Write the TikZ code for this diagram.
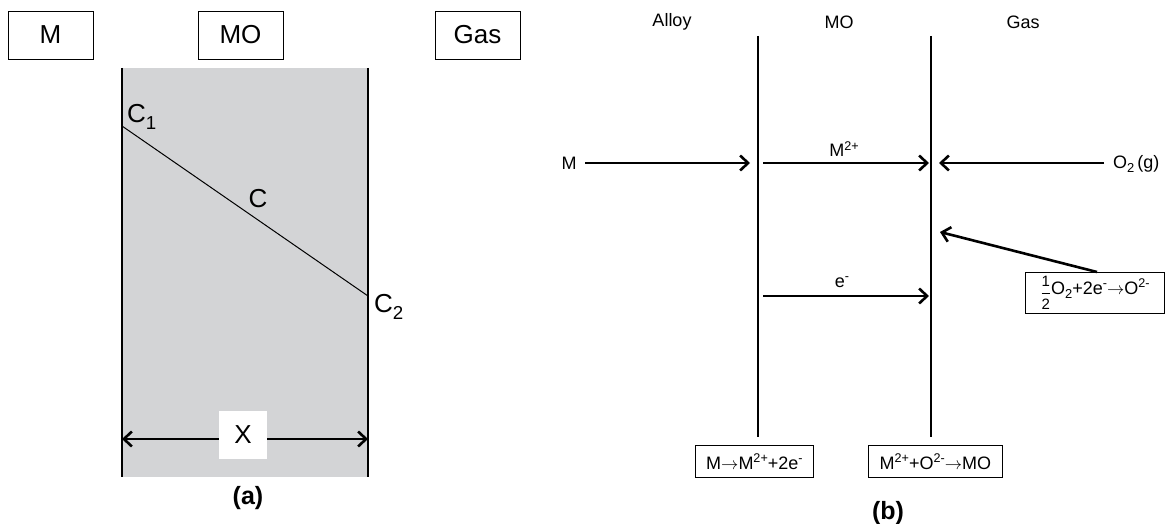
\documentclass[tikz,border=0pt]{standalone}
\usepackage{fontspec}
\setmainfont{Liberation Sans}
\usetikzlibrary{arrows.meta}
\definecolor{oxide}{RGB}{211,212,214}
\newcommand\lowidx[1]{\raisebox{-0.45ex}{\scalebox{0.72}{#1}}}
\newcommand\upidx[1]{\raisebox{0.7ex}{\scalebox{0.7}{#1}}}
\newcommand\halfO{\raisebox{-0.35ex}{$\displaystyle{\hbox{\fontsize{15}{15}\selectfont 1}\above 0.7pt\hbox{\fontsize{15}{15}\selectfont 2}}$}}
\begin{document}
\begin{tikzpicture}[x=1pt,y=-1pt,
  big/.style={inner sep=0pt, font=\fontsize{26}{30}\selectfont},
  mid/.style={inner sep=0pt, font=\fontsize{18}{21}\selectfont},
  phasebox/.style={draw, line width=0.9pt, minimum width=85pt, minimum height=48pt, inner sep=0pt, font=\fontsize{26}{30}\selectfont},
  eqbox/.style={draw, line width=0.8pt, inner sep=0pt, minimum height=32pt, font=\fontsize{18}{21}\selectfont},
  wall/.style={line width=1.3pt},
  thinwall/.style={line width=1.1pt},
  flow/.style={line width=2.6pt, -{Straight Barb[length=8pt,width=15pt,line width=2.6pt]}},
  span/.style={line width=2.6pt, {Straight Barb[length=8pt,width=15pt,line width=2.6pt]}-{Straight Barb[length=8pt,width=15pt,line width=2.6pt]}},
  caption/.style={inner sep=0pt, font=\fontsize{25}{30}\selectfont\bfseries}]
\useasboundingbox (0,0) rectangle (1165,524);

% ---------- (a) concentration profile across the oxide ----------
\node[phasebox] (hM)   at (50.5,35)  {M};
\node[phasebox] (hMO)  at (240.5,35) {MO};
\node[phasebox] (hGas) at (477.5,35) {Gas};

\fill[oxide] (122,68) rectangle (368,477);
\coordinate (aTL) at (122,68);  \coordinate (aBL) at (122,477);
\coordinate (aTR) at (368,68);  \coordinate (aBR) at (368,477);
\draw[wall] (aTL) -- (aBL);
\draw[wall] (aTR) -- (aBR);

\coordinate (c1) at (122,126);
\coordinate (c2) at (368,296);
\draw[line width=1pt] (c1) -- (c2);
\node[big, anchor=west] (lC1) at (127,117) {C\lowidx{1}};
\node[big] (lC)  at (258,199) {C};
\node[big, anchor=west] (lC2) at (374,307) {C\lowidx{2}};

\coordinate (xa) at (122,439);
\coordinate (xb) at (368,439);
\draw[span] (xa) -- (xb);
\node[big, fill=white, minimum width=48pt, minimum height=48pt] (lX) at (243,435) {X};

\node[caption] (capA) at (248,498) {(a)};

% ---------- (b) reactions and transport ----------
\node[mid] (tAlloy) at (672,22)  {Alloy};
\node[mid] (tMO)    at (839,22)  {MO};
\node[mid] (tGas)   at (1023,22) {Gas};

\coordinate (i1t) at (758,36);  \coordinate (i1b) at (758,437);
\coordinate (i2t) at (931,36);  \coordinate (i2b) at (931,437);
\draw[thinwall] (i1t) -- (i1b);
\draw[thinwall] (i2t) -- (i2b);

\node[mid] (tM) at (569,163) {M};
\node[mid, anchor=west] (tO2) at (1113,164) {O\lowidx{2}\,(g)};
\coordinate (mStart) at (585,163);
\coordinate (mEnd)   at (750,163);
\coordinate (ionA)   at (763,163);
\coordinate (ionB)   at (929,163);
\coordinate (oStart) at (1104,163);
\coordinate (oxEnd)  at (939,163);
\draw[flow] (mStart) -- (mEnd);
\draw[flow] (ionA) -- (ionB);
\draw[flow] (oStart) -- (oxEnd);
\node[mid] (tMion) at (844,149) {M\upidx{2+}};

\coordinate (eA) at (763,296);
\coordinate (eB) at (929,296);
\draw[flow] (eA) -- (eB);
\node[mid] (tE) at (842,282) {e\upidx{-}};

\node[eqbox, minimum width=139pt, minimum height=41pt, anchor=north west] (rO) at (1025,272)
  {\halfO O\lowidx{2}+2e\upidx{-}$\rightarrow$O\upidx{2-}};
\coordinate (rOtop) at (1097,272);
\coordinate (oTip) at (940,232);
\draw[flow] (rOtop) -- (oTip);

\node[eqbox, minimum width=118pt, anchor=north west] (rM)  at (695,445) {M$\rightarrow$M\upidx{2+}+2e\upidx{-}};
\node[eqbox, minimum width=134pt, anchor=north west] (rMO) at (868,445) {M\upidx{2+}+O\upidx{2-}$\rightarrow$MO};

\node[caption] (capB) at (888,513) {(b)};
\end{tikzpicture}
\end{document}
